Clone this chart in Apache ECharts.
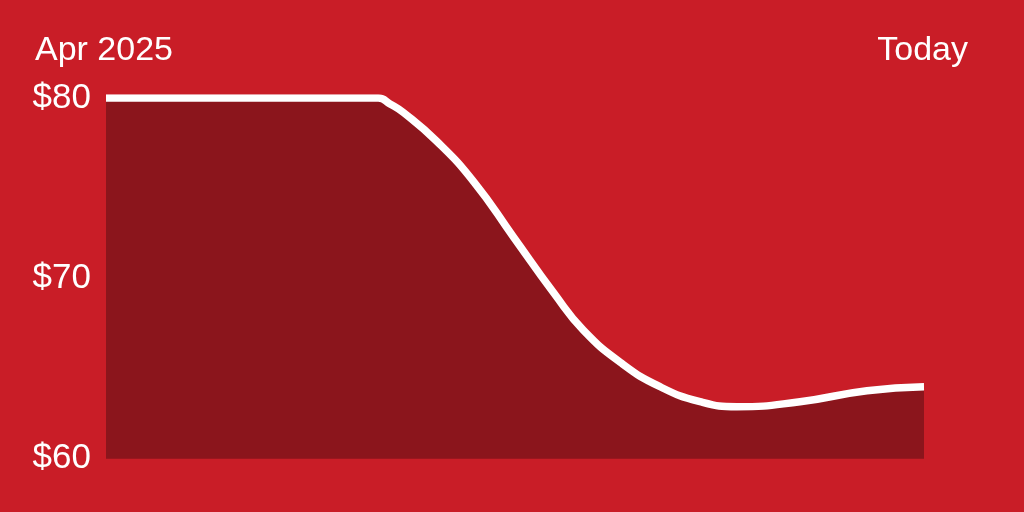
<!DOCTYPE html>
<html>
<head>
<meta charset="utf-8">
<script src="https://cdn.jsdelivr.net/npm/echarts@6/dist/echarts.min.js"></script>
<style>
html,body{margin:0;padding:0;background:#C91D27;}
#chart{width:1024px;height:512px;}
</style>
</head>
<body>
<div id="chart"></div>
<script>
// timeline position (% of period from Apr 2025 to today)
const timePos = [0, 33.28, 34.72, 36.34, 40.43, 44.99, 49.79, 54.77, 58.35, 63.04, 67.73, 72.62, 77.14, 84.84, 93.03, 100];
// price in USD
const prices = [80, 80, 79.67, 79.20, 77.60, 75.34, 72.31, 69.17, 67.13, 65.29, 63.99, 63.16, 62.88, 63.16, 63.77, 63.99];
const yTicks = [60, 70, 80];
const startLabel = 'Apr 2025';
const endLabel = 'Today';

const FONT = 'Liberation Sans, Arial, sans-serif';
const chart = echarts.init(document.getElementById('chart'), null, {renderer: 'canvas'});
chart.setOption({
  backgroundColor: '#C91D27',
  animation: false,
  grid: {left: 106, right: 100, top: 98, bottom: 53.3},
  xAxis: {
    type: 'value', min: 0, max: 100, show: false
  },
  yAxis: {
    type: 'value', min: yTicks[0], max: yTicks[yTicks.length - 1], interval: 10,
    axisLine: {show: false}, axisTick: {show: false}, splitLine: {show: false},
    axisLabel: {
      color: '#ffffff', fontSize: 35, fontFamily: FONT, margin: 15,
      formatter: v => '$' + v
    }
  },
  graphic: [
    {type: 'text', x: 35, y: 51, style: {text: startLabel, fill: '#fff', fontSize: 34, fontFamily: FONT, align: 'left', verticalAlign: 'middle'}},
    {type: 'text', x: 968, y: 51, style: {text: endLabel, fill: '#fff', fontSize: 34, fontFamily: FONT, align: 'right', verticalAlign: 'middle'}}
  ],
  series: [{
    type: 'line',
    data: timePos.map((t, i) => [t, prices[i]]),
    smooth: 0.5,
    symbol: 'none',
    lineStyle: {color: '#ffffff', width: 7.5, cap: 'butt', join: 'round'},
    areaStyle: {color: '#8B151C', opacity: 1, origin: 'start'}
  }]
});
</script>
</body>
</html>
